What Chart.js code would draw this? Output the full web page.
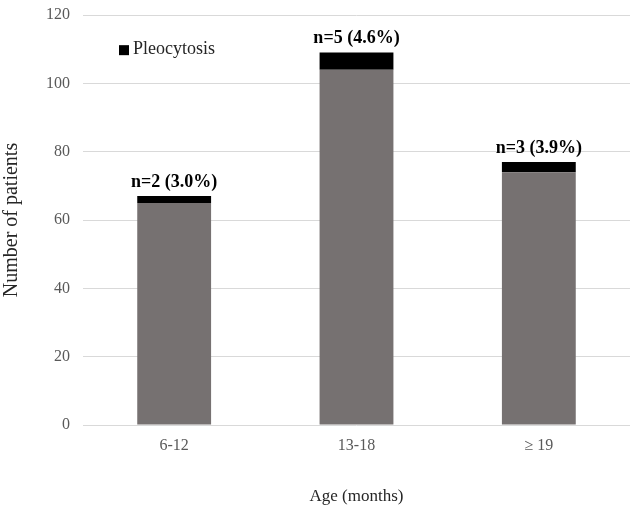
<!DOCTYPE html>
<html>
<head>
<meta charset="utf-8">
<script src="https://cdn.jsdelivr.net/npm/chart.js@4.4.1/dist/chart.umd.min.js"></script>
<style>
  html, body { margin: 0; padding: 0; background: #fff; }
  #wrap { width: 633px; height: 508px; position: relative; }
</style>
</head>
<body>
<div id="wrap"><canvas id="chart"></canvas></div>
<script>
// data
const categories = ['6-12', '13-18', '\u2265 19'];
const withoutPleocytosis = [65, 104, 74];
const pleocytosis = [2, 5, 3];
const barLabels = ['n=2 (3.0%)', 'n=5 (4.6%)', 'n=3 (3.9%)'];
const yTicks = [0, 20, 40, 60, 80, 100, 120];

const serif = '"Liberation Serif", "Times New Roman", serif';

// text above each stacked bar
const barLabelPlugin = {
    id: 'barLabels',
    afterDatasetsDraw(chart) {
        let ctx = chart.ctx;
        let meta = chart.getDatasetMeta(1);
        ctx.save();
        ctx.font = 'bold 18px ' + serif;
        ctx.fillStyle = '#000';
        ctx.textAlign = 'center';
        ctx.textBaseline = 'middle';
        meta.data.forEach((bar, i) => {
            ctx.fillText(barLabels[i], bar.x, bar.y - 14);
        });
        ctx.restore();
    }
};

// legend only shows the pleocytosis series, sitting inside the plot
const insideLegend = {
    id: 'insideLegend',
    afterDraw(chart) {
        let ctx = chart.ctx;
        let ds = chart.data.datasets[1];
        let x = chart.chartArea.left + 36;
        let y = chart.scales.y.getPixelForValue(110);
        ctx.save();
        ctx.fillStyle = ds.backgroundColor;
        ctx.fillRect(x, y - 4, 10, 10);
        ctx.font = '18px ' + serif;
        ctx.fillStyle = '#262626';
        ctx.textAlign = 'left';
        ctx.textBaseline = 'middle';
        ctx.fillText(ds.label, x + 14, y);
        ctx.restore();
    }
};

function createChart() {
    let ctx = document.getElementById('chart').getContext('2d');

    window.bar = new Chart(ctx, {
        type: 'bar',
        data: {
            labels: categories,
            datasets: [{
                label: 'No pleocytosis',
                data: withoutPleocytosis,
                backgroundColor: '#767171',
                borderWidth: 0
            }, {
                label: 'Pleocytosis',
                data: pleocytosis,
                backgroundColor: '#000000',
                borderWidth: 0
            }]
        },
        options: {
            responsive: true,
            maintainAspectRatio: false,
            animation: false,
            layout: { padding: { top: 15, right: 3, left: 0, bottom: 0 } },
            plugins: {
                legend: { display: false },
                tooltip: { enabled: false }
            },
            datasets: {
                bar: { categoryPercentage: 1, barPercentage: 0.405 }
            },
            scales: {
                x: {
                    stacked: true,
                    grid: { display: false },
                    border: { display: false },
                    ticks: { color: '#595959', font: { family: serif, size: 16 }, padding: 3 },
                    title: {
                        display: true,
                        text: 'Age (months)',
                        color: '#262626',
                        font: { family: serif, size: 17 },
                        padding: { top: 0, bottom: 1 }
                    },
                    afterFit(scale) { scale.height = 83; }
                },
                y: {
                    stacked: true,
                    min: 0,
                    max: 120,
                    afterBuildTicks(scale) { scale.ticks = yTicks.map(v => ({ value: v })); },
                    grid: { color: '#d9d9d9', drawTicks: false, lineWidth: 1 },
                    border: { display: false },
                    ticks: { color: '#595959', font: { family: serif, size: 16 }, padding: 13 },
                    title: {
                        display: true,
                        text: 'Number of patients',
                        color: '#262626',
                        font: { family: serif, size: 20 },
                        padding: { top: 0, bottom: 0 }
                    },
                    afterFit(scale) {
                        scale.width = 83;
                        scale.paddingTop = 0;
                        scale.paddingBottom = 0;
                    }
                }
            }
        },
        plugins: [barLabelPlugin, insideLegend]
    });
}

createChart();
</script>
</body>
</html>
